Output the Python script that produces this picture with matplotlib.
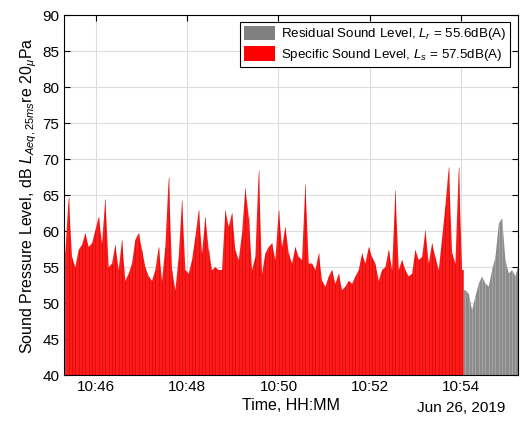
import numpy as np
import matplotlib
matplotlib.use("Agg")
import matplotlib.pyplot as plt
import matplotlib.dates as mdates
from matplotlib.patches import Patch

plt.rcParams['font.family'] = ['Liberation Sans', 'DejaVu Sans']
plt.rcParams['mathtext.fontset'] = 'custom'
plt.rcParams['mathtext.rm'] = 'Liberation Sans'
plt.rcParams['mathtext.it'] = 'Liberation Sans:italic'

# LAeq,25ms envelope, one value every ~4.4 s
specific_levels = [
    57.1, 64.8, 56.4, 55.0, 57.4, 58.1, 59.7, 57.8, 58.3, 60.1, 62.0, 58.3,
    64.5, 55.0, 55.5, 58.1, 54.6, 58.8, 53.1, 54.1, 55.5, 58.8, 59.7, 57.4,
    55.0, 53.7, 53.1, 54.6, 57.8, 53.1, 57.8, 67.5, 54.6, 51.8, 56.4, 64.3,
    54.6, 54.1, 56.0, 59.2, 62.9, 56.9, 62.0, 57.4, 54.6, 55.0, 54.6,
    54.6, 62.9, 60.6, 62.5, 57.4, 56.0, 59.7, 66.0, 62.0, 54.6, 56.4, 68.5,
    54.1, 56.9, 57.8, 58.3, 56.0, 62.9, 57.8, 60.6, 56.9, 55.5, 57.8, 56.4,
    56.0, 66.6, 55.5, 55.5, 54.6, 56.9, 53.1, 52.3, 53.7, 54.6, 52.7, 54.1,
    51.8, 52.3, 53.1, 52.7, 53.7, 54.6, 56.9, 55.5, 57.8, 56.4, 55.5,
    53.1, 54.6, 55.0, 57.4, 54.6, 65.7, 54.6, 56.0, 54.6, 53.7, 54.1, 57.4,
    56.0, 56.4, 60.1, 55.5, 58.3, 56.4, 54.6, 59.0, 63.5, 68.9, 57.0,
    55.5, 68.9, 54.6,
]
residual_levels = [
    51.8, 51.3, 49.0, 50.9, 52.7, 53.7, 52.7, 52.3, 54.6, 56.4, 61.0, 61.8,
    56.0, 54.1, 54.6, 53.7, 55.5,
]

start_time = np.datetime64('2019-06-26T10:45:19.600')
step_ms = 4386
residual_label = r'Residual Sound Level, $L_r$ = 55.6dB(A)'
specific_label = r'Specific Sound Level, $L_s$ = 57.5dB(A)'

levels = np.array(specific_levels + residual_levels)
n_red = len(specific_levels)
times = start_time + np.arange(len(levels)) * np.timedelta64(step_ms, 'ms')
t = mdates.date2num(times.astype('datetime64[ms]').astype(object))
step = t[1] - t[0]
tb = t[n_red - 1] + step / 2

red_t = np.append(t[:n_red], tb)
red_v = np.append(levels[:n_red], levels[n_red - 1])
gray_t = np.insert(t[n_red:], 0, tb)
gray_v = np.insert(levels[n_red:], 0, levels[n_red])

fig = plt.figure(figsize=(5.25, 4.21), dpi=100)
ax = fig.add_axes([0.122, 0.109, 0.865, 0.855])

ax.fill_between(red_t, 0, red_v, color='#ff1a1a', lw=0, zorder=2)
ax.vlines(t[:n_red], 0, levels[:n_red], color='#a00000', lw=0.5, alpha=0.5, zorder=3)
ax.fill_between(gray_t, 0, gray_v, color='#8c8c8c', lw=0, zorder=2)
ax.vlines(t[n_red:], 0, levels[n_red:], color='#c8c8c8', lw=0.5, alpha=0.6, zorder=3)

ax.set_ylim(40, 90)
ax.set_yticks(range(40, 91, 5))
x0 = mdates.date2num(np.datetime64('2019-06-26T10:45:17.900').astype(object))
x1 = mdates.date2num(np.datetime64('2019-06-26T10:55:15.300').astype(object))
ax.set_xlim(x0, x1)
ax.xaxis.set_major_locator(mdates.MinuteLocator(byminute=range(0, 60, 2)))
ax.xaxis.set_major_formatter(mdates.DateFormatter('%H:%M'))

ax.grid(True, color='#dcdcdc', lw=0.8, zorder=0)
ax.set_axisbelow(True)
ax.tick_params(direction='in', top=True, right=True, labelsize=11, length=4, width=0.8)
for s in ax.spines.values():
    s.set_linewidth(0.8)
    s.set_zorder(5)

ax.set_xlabel('Time, HH:MM', fontsize=11.5, labelpad=3)
ax.set_ylabel(r'Sound Pressure Level, dB $L_{Aeq,25ms}$re 20$_{\mu}$Pa', fontsize=11.5, labelpad=2)
fig.text(505 / 525, 1 - 408 / 421, 'Jun 26, 2019', ha='right', va='center', fontsize=11)

handles = [Patch(facecolor='#808080', edgecolor='none'), Patch(facecolor='#ff0000', edgecolor='none')]
leg = ax.legend(handles, [residual_label, specific_label], loc='upper right',
                bbox_to_anchor=(0.983, 0.982), borderaxespad=0, fontsize=9.6,
                handlelength=2.3, handleheight=1.3, fancybox=False, framealpha=1,
                edgecolor='black', borderpad=0.3, labelspacing=0.3, handletextpad=0.5)
leg.get_frame().set_linewidth(0.8)

fig.savefig('out.png', dpi=100)
